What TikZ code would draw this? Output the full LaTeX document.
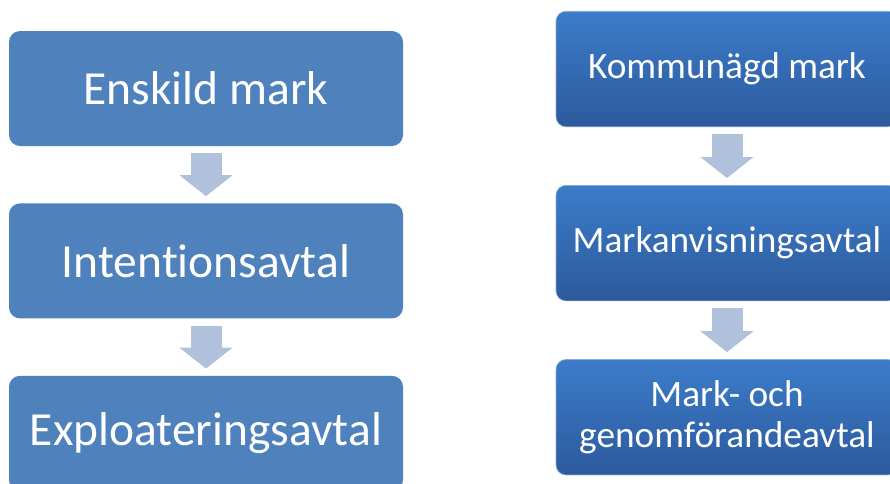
\documentclass[tikz,border=0pt]{standalone}
\usepackage{fontspec}
\setmainfont[Ligatures=CommonOff]{Carlito}
\usetikzlibrary{positioning,arrows.meta}
\definecolor{flatblue}{RGB}{79,129,189}
\definecolor{gradtop}{RGB}{60,124,202}
\definecolor{gradbottom}{RGB}{44,90,156}
\definecolor{gradedge}{RGB}{140,170,215}
\definecolor{arrowgray}{RGB}{176,193,219}

\begin{document}
\begin{tikzpicture}[x=1pt,y=-1pt,node distance=57pt,
    flatbox/.style={rectangle,rounded corners=11pt,fill=flatblue,text=white,
        minimum width=394pt,minimum height=115pt,inner sep=0pt,font=\fontsize{47.5}{52}\selectfont},
    gradbox/.style={rectangle,rounded corners=10pt,top color=gradtop,bottom color=gradbottom,
        draw=gradedge,line width=0.6pt,text=white,align=center,
        minimum width=342pt,minimum height=115.5pt,inner sep=0pt,font=\fontsize{37.3}{41.5}\selectfont},
    blockarrow/.style={draw=arrowgray,line width=31pt,shorten <=7pt,shorten >=7pt,
        -{Triangle[width=52pt,length=21pt]}}]
    \useasboundingbox (0,0) rectangle (890,483);

    % left column: privately owned land
    \node[flatbox] (em) at (206,88.5) {Enskild mark};
    \node[flatbox] (ia) [below=of em] {Intentionsavtal};
    \node[flatbox] (ea) [below=of ia] {Exploateringsavtal};

    % right column: municipal land
    \node[gradbox] (km) at (727,69) {Kommunägd mark};
    \node[gradbox] (ma) [below=58pt of km] {Markanvisningsavtal};
    \node[gradbox] (mg) [below=58pt of ma] {Mark- och\\genomförandeavtal};

    \path (em) edge[blockarrow] (ia)
          (ia) edge[blockarrow] (ea)
          (km) edge[blockarrow] (ma)
          (ma) edge[blockarrow] (mg);
\end{tikzpicture}
\end{document}
